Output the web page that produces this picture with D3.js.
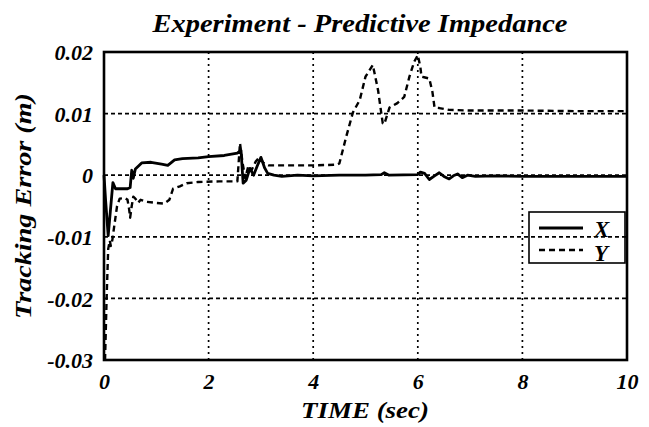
<!DOCTYPE html>
<html>
<head>
<meta charset="utf-8">
<script src="https://cdn.jsdelivr.net/npm/d3@7"></script>
<style>
  html, body { margin: 0; padding: 0; background: #fff; }
  svg { display: block; }
  text { font-family: "Liberation Serif", "Times New Roman", serif; font-weight: bold; font-style: italic; fill: #000; }
</style>
</head>
<body>
<svg id="chart" width="649" height="427"></svg>
<script>
// Time samples (sec) and tracking error (m) for the X axis
const xTime = [0, 0.03, 0.08, 0.12, 0.17, 0.22, 0.45, 0.5, 0.53, 0.56, 0.6, 0.72, 0.9, 1.1, 1.22, 1.35, 1.5, 1.8, 2.0, 2.3, 2.55, 2.62, 2.66, 2.72, 2.79, 2.86, 2.93, 3.0, 3.07, 3.13, 3.25, 3.4, 3.7, 4.0, 4.5, 5.0, 5.3, 5.36, 5.45, 6.0, 6.05, 6.13, 6.22, 6.32, 6.41, 6.5, 6.6, 6.68, 6.76, 6.85, 6.95, 7.1, 7.5, 8, 9, 10];
const xError = [0, -0.004, -0.0098, -0.006, -0.0012, -0.0022, -0.0022, -0.002, 0.0008, -0.0005, 0.001, 0.002, 0.0021, 0.0018, 0.0016, 0.0025, 0.0027, 0.0028, 0.003, 0.0032, 0.0036, 0.004, -0.0013, -0.0008, 0.0011, 0.0, 0.0015, 0.0029, 0.0012, 0.0003, 0.0, -0.0002, 0.0, -0.0001, 0.0, 0.0, 0.0001, 0.0004, 0.0, 0.0001, 0.0005, 0.0003, -0.0007, -0.0001, 0.0004, -0.0002, -0.0006, -0.0001, 0.0002, -0.0004, 0.0, -0.0002, -0.0001, -0.0002, -0.0002, -0.0002];

// Time samples (sec) and tracking error (m) for the Y axis
const yTime = [0.02, 0.05, 0.08, 0.11, 0.13, 0.16, 0.2, 0.25, 0.3, 0.4, 0.45, 0.48, 0.5, 0.53, 0.56, 0.6, 0.65, 0.7, 0.8, 1.0, 1.15, 1.25, 1.32, 1.45, 1.58, 1.8, 2.2, 2.55, 2.6, 2.65, 2.7, 2.76, 2.82, 2.9, 2.97, 3.05, 3.15, 3.5, 4.0, 4.45, 4.5, 4.63, 4.76, 4.89, 5.0, 5.14, 5.24, 5.33, 5.36, 5.46, 5.61, 5.74, 5.84, 5.93, 6.0, 6.05, 6.07, 6.12, 6.22, 6.28, 6.32, 6.41, 6.6, 7, 8, 9, 10];
const yError = [-0.03, -0.02, -0.012, -0.0106, -0.0115, -0.0105, -0.008, -0.005, -0.0038, -0.0037, -0.004, -0.0055, -0.0069, -0.005, -0.0035, -0.0038, -0.0045, -0.004, -0.0043, -0.0045, -0.0046, -0.004, -0.0022, -0.0018, -0.0013, -0.0011, -0.001, -0.001, 0.0052, 0.002, -0.0005, 0.0015, 0.0008, 0.0022, 0.0029, 0.002, 0.0016, 0.0016, 0.0016, 0.0017, 0.0019, 0.0062, 0.0102, 0.0122, 0.016, 0.0179, 0.0138, 0.0084, 0.0083, 0.011, 0.0117, 0.0127, 0.016, 0.0184, 0.0195, 0.0175, 0.016, 0.0159, 0.0157, 0.0135, 0.011, 0.0109, 0.0106, 0.0105, 0.0105, 0.0104, 0.0104];

const timeTicks = [0, 2, 4, 6, 8, 10];
const errorTicks = [0.02, 0.01, 0, -0.01, -0.02, -0.03];
const errorTickLabels = ["0.02", "0.01", "0", "-0.01", "-0.02", "-0.03"];
const legendNames = ["X", "Y"];

const svg = d3.select("#chart");
const plot = { left: 104, right: 627, top: 52, bottom: 360 };

const x = d3.scaleLinear().domain([0, 10]).range([plot.left, plot.right]);
const y = d3.scaleLinear().domain([-0.03, 0.02]).range([plot.bottom, plot.top]);

// grid
const grid = svg.append("g");
grid.selectAll("line.v").data(timeTicks.slice(1, -1)).join("line")
  .attr("x1", d => x(d)).attr("x2", d => x(d))
  .attr("y1", plot.top).attr("y2", plot.bottom)
  .attr("stroke", "#000").attr("stroke-width", 1.7).attr("stroke-dasharray", "2,4");
grid.selectAll("line.h").data(errorTicks.slice(1, -1)).join("line")
  .attr("x1", plot.left).attr("x2", plot.right)
  .attr("y1", d => y(d)).attr("y2", d => y(d))
  .attr("stroke", "#000").attr("stroke-width", 1.7).attr("stroke-dasharray", "4,3");

// axes (labels only; frame drawn separately)
const xAxis = d3.axisBottom(x).tickValues(timeTicks).tickSize(0).tickPadding(8).tickFormat(d3.format("d"));
svg.append("g").attr("transform", `translate(0,${plot.bottom})`).call(xAxis)
  .call(g => g.select(".domain").remove())
  .selectAll("text").attr("font-size", 22).attr("font-family", null).attr("dy", "0.95em");

const yAxis = d3.axisLeft(y).tickValues(errorTicks).tickSize(0).tickPadding(11)
  .tickFormat((d, i) => errorTickLabels[i]);
svg.append("g").attr("transform", `translate(${plot.left},0)`).call(yAxis)
  .call(g => g.select(".domain").remove())
  .selectAll("text").attr("font-size", 22).attr("font-family", null).attr("dy", "0.35em");

// data lines
const line = d3.line().x(d => x(d[0])).y(d => y(d[1]));
const xPts = xTime.map((t, i) => [t, xError[i]]);
const yPts = yTime.map((t, i) => [t, yError[i]]);

svg.append("path").datum(yPts).attr("d", line)
  .attr("fill", "none").attr("stroke", "#000").attr("stroke-width", 2.4)
  .attr("stroke-dasharray", "6,4").attr("stroke-linejoin", "round");
svg.append("path").datum(xPts).attr("d", line)
  .attr("fill", "none").attr("stroke", "#000").attr("stroke-width", 2.8)
  .attr("stroke-linejoin", "round");

// frame
svg.append("rect")
  .attr("x", plot.left).attr("y", plot.top)
  .attr("width", plot.right - plot.left).attr("height", plot.bottom - plot.top)
  .attr("fill", "none").attr("stroke", "#000").attr("stroke-width", 2.6);

// legend
const lg = svg.append("g");
lg.append("rect").attr("x", 529).attr("y", 212).attr("width", 96).attr("height", 51)
  .attr("fill", "none").attr("stroke", "#000").attr("stroke-width", 1.6);
lg.append("line").attr("x1", 539).attr("x2", 583).attr("y1", 228).attr("y2", 228)
  .attr("stroke", "#000").attr("stroke-width", 2.8);
lg.append("line").attr("x1", 539).attr("x2", 583).attr("y1", 250).attr("y2", 250)
  .attr("stroke", "#000").attr("stroke-width", 2.4).attr("stroke-dasharray", "6,4");
lg.selectAll("text").data(legendNames).join("text")
  .attr("x", 594).attr("y", (d, i) => 237 + i * 24)
  .attr("font-size", 23).text(d => d);

// titles
svg.append("text").attr("x", 360).attr("y", 32).attr("text-anchor", "middle")
  .attr("font-size", 25).attr("textLength", 415).attr("lengthAdjust", "spacingAndGlyphs")
  .text("Experiment - Predictive Impedance");
svg.append("text").attr("x", 365).attr("y", 418).attr("text-anchor", "middle")
  .attr("font-size", 23).attr("textLength", 128).attr("lengthAdjust", "spacingAndGlyphs")
  .text("TIME (sec)");
svg.append("text").attr("transform", `translate(31,${(plot.top + plot.bottom) / 2}) rotate(-90)`)
  .attr("text-anchor", "middle").attr("font-size", 23)
  .attr("textLength", 226).attr("lengthAdjust", "spacingAndGlyphs")
  .text("Tracking Error (m)");
</script>
</body>
</html>
